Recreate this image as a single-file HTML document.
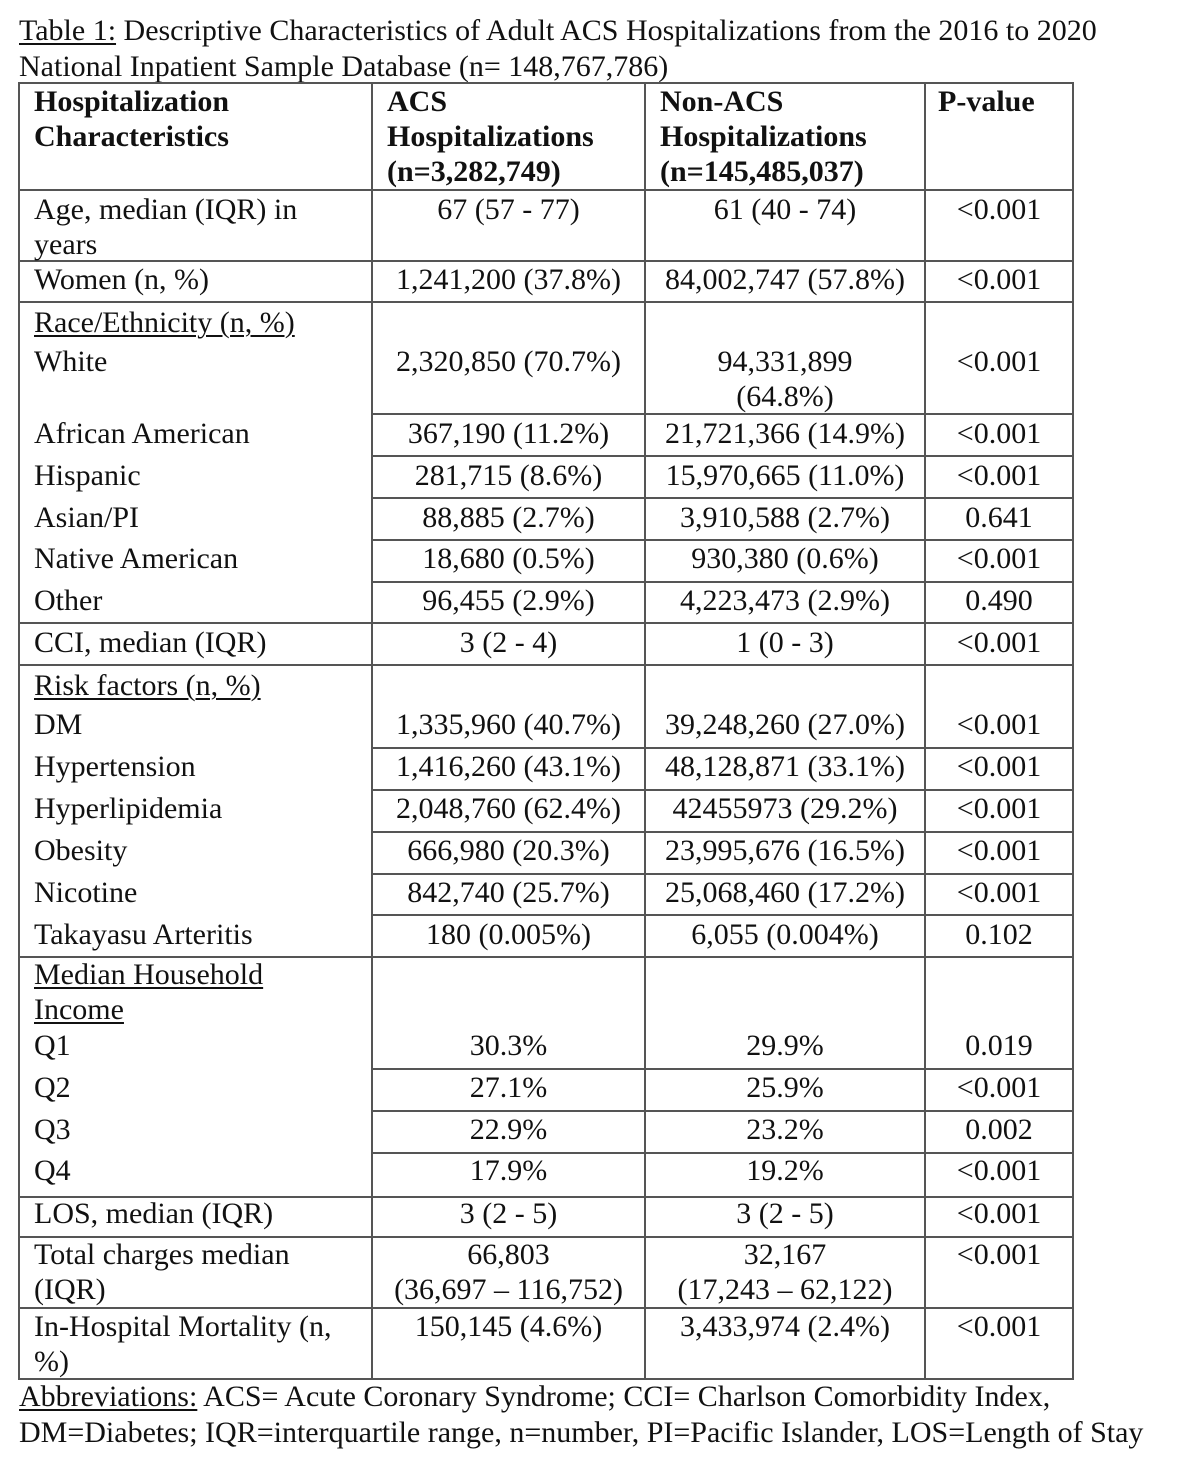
<!DOCTYPE html>
<html><head><meta charset="utf-8">
<style>
body{margin:0;background:#fff;}
#c{position:relative;width:1194px;height:1464px;overflow:hidden;font-family:"Liberation Serif","Times New Roman",serif;font-size:30px;color:#111;}
.t{position:absolute;line-height:34px;height:34px;white-space:nowrap;}
.l{left:34px;}
.c2{left:372px;width:273px;text-align:center;}
.c3{left:645px;width:280px;text-align:center;}
.c4{left:925px;width:148px;text-align:center;}
.b{font-weight:bold;}
.h{position:absolute;height:2px;background:#555;}
.v{position:absolute;width:2px;background:#555;top:83px;height:1297px;}
u{text-decoration:underline;text-underline-offset:3px;text-decoration-thickness:1.5px;}
</style></head><body><div id="c">
<div class="t" style="left:19px;top:14px"><u>Table 1:</u> Descriptive Characteristics of Adult ACS Hospitalizations from the 2016 to 2020</div>
<div class="t" style="left:19px;top:50px">National Inpatient Sample Database (n= 148,767,786)</div>

<div class="v" style="left:18px"></div><div class="v" style="left:371px"></div><div class="v" style="left:644px"></div><div class="v" style="left:924px"></div><div class="v" style="left:1072px"></div>

<div class="h" style="left:18px;width:1056px;top:82px"></div>
<div class="h" style="left:18px;width:1056px;top:189px"></div>
<div class="h" style="left:18px;width:1056px;top:260px"></div>
<div class="h" style="left:18px;width:1056px;top:301px"></div>
<div class="h" style="left:18px;width:1056px;top:622px"></div>
<div class="h" style="left:18px;width:1056px;top:664px"></div>
<div class="h" style="left:18px;width:1056px;top:956px"></div>
<div class="h" style="left:18px;width:1056px;top:1196px"></div>
<div class="h" style="left:18px;width:1056px;top:1236px"></div>
<div class="h" style="left:18px;width:1056px;top:1307px"></div>
<div class="h" style="left:18px;width:1056px;top:1378px"></div>
<div class="h" style="left:371px;width:703px;top:413px"></div>
<div class="h" style="left:371px;width:703px;top:455px"></div>
<div class="h" style="left:371px;width:703px;top:497px"></div>
<div class="h" style="left:371px;width:703px;top:539px"></div>
<div class="h" style="left:371px;width:703px;top:581px"></div>
<div class="h" style="left:371px;width:703px;top:747px"></div>
<div class="h" style="left:371px;width:703px;top:789px"></div>
<div class="h" style="left:371px;width:703px;top:831px"></div>
<div class="h" style="left:371px;width:703px;top:873px"></div>
<div class="h" style="left:371px;width:703px;top:914px"></div>
<div class="h" style="left:371px;width:703px;top:1068px"></div>
<div class="h" style="left:371px;width:703px;top:1110px"></div>
<div class="h" style="left:371px;width:703px;top:1152px"></div>

<div class="t l b" style="top:85px">Hospitalization</div>
<div class="t l b" style="top:120px">Characteristics</div>
<div class="t b" style="left:387px;top:85px">ACS</div>
<div class="t b" style="left:387px;top:120px">Hospitalizations</div>
<div class="t b" style="left:387px;top:155px">(n=3,282,749)</div>
<div class="t b" style="left:660px;top:85px">Non-ACS</div>
<div class="t b" style="left:660px;top:120px">Hospitalizations</div>
<div class="t b" style="left:660px;top:155px">(n=145,485,037)</div>
<div class="t b" style="left:938px;top:85px">P-value</div>

<div class="t l" style="top:193px">Age, median (IQR) in</div>
<div class="t l" style="top:228px">years</div>
<div class="t c2" style="top:193px">67 (57 - 77)</div>
<div class="t c3" style="top:193px">61 (40 - 74)</div>
<div class="t c4" style="top:193px">&lt;0.001</div>

<div class="t l" style="top:263px">Women (n, %)</div>
<div class="t c2" style="top:263px">1,241,200 (37.8%)</div>
<div class="t c3" style="top:263px">84,002,747 (57.8%)</div>
<div class="t c4" style="top:263px">&lt;0.001</div>

<div class="t l" style="top:306px"><u>Race/Ethnicity (n, %)</u></div>
<div class="t l" style="top:345px">White</div>
<div class="t c2" style="top:345px">2,320,850 (70.7%)</div>
<div class="t c3" style="top:345px">94,331,899</div>
<div class="t c3" style="top:380px">(64.8%)</div>
<div class="t c4" style="top:345px">&lt;0.001</div>

<div class="t l" style="top:417px">African American</div>
<div class="t c2" style="top:417px">367,190 (11.2%)</div>
<div class="t c3" style="top:417px">21,721,366 (14.9%)</div>
<div class="t c4" style="top:417px">&lt;0.001</div>
<div class="t l" style="top:459px">Hispanic</div>
<div class="t c2" style="top:459px">281,715 (8.6%)</div>
<div class="t c3" style="top:459px">15,970,665 (11.0%)</div>
<div class="t c4" style="top:459px">&lt;0.001</div>
<div class="t l" style="top:501px">Asian/PI</div>
<div class="t c2" style="top:501px">88,885 (2.7%)</div>
<div class="t c3" style="top:501px">3,910,588 (2.7%)</div>
<div class="t c4" style="top:501px">0.641</div>
<div class="t l" style="top:542px">Native American</div>
<div class="t c2" style="top:542px">18,680 (0.5%)</div>
<div class="t c3" style="top:542px">930,380 (0.6%)</div>
<div class="t c4" style="top:542px">&lt;0.001</div>
<div class="t l" style="top:584px">Other</div>
<div class="t c2" style="top:584px">96,455 (2.9%)</div>
<div class="t c3" style="top:584px">4,223,473 (2.9%)</div>
<div class="t c4" style="top:584px">0.490</div>

<div class="t l" style="top:626px">CCI, median (IQR)</div>
<div class="t c2" style="top:626px">3 (2 - 4)</div>
<div class="t c3" style="top:626px">1 (0 - 3)</div>
<div class="t c4" style="top:626px">&lt;0.001</div>

<div class="t l" style="top:669px"><u>Risk factors (n, %)</u></div>
<div class="t l" style="top:708px">DM</div>
<div class="t c2" style="top:708px">1,335,960 (40.7%)</div>
<div class="t c3" style="top:708px">39,248,260 (27.0%)</div>
<div class="t c4" style="top:708px">&lt;0.001</div>
<div class="t l" style="top:750px">Hypertension</div>
<div class="t c2" style="top:750px">1,416,260 (43.1%)</div>
<div class="t c3" style="top:750px">48,128,871 (33.1%)</div>
<div class="t c4" style="top:750px">&lt;0.001</div>
<div class="t l" style="top:792px">Hyperlipidemia</div>
<div class="t c2" style="top:792px">2,048,760 (62.4%)</div>
<div class="t c3" style="top:792px">42455973 (29.2%)</div>
<div class="t c4" style="top:792px">&lt;0.001</div>
<div class="t l" style="top:834px">Obesity</div>
<div class="t c2" style="top:834px">666,980 (20.3%)</div>
<div class="t c3" style="top:834px">23,995,676 (16.5%)</div>
<div class="t c4" style="top:834px">&lt;0.001</div>
<div class="t l" style="top:876px">Nicotine</div>
<div class="t c2" style="top:876px">842,740 (25.7%)</div>
<div class="t c3" style="top:876px">25,068,460 (17.2%)</div>
<div class="t c4" style="top:876px">&lt;0.001</div>
<div class="t l" style="top:918px">Takayasu Arteritis</div>
<div class="t c2" style="top:918px">180 (0.005%)</div>
<div class="t c3" style="top:918px">6,055 (0.004%)</div>
<div class="t c4" style="top:918px">0.102</div>

<div class="t l" style="top:958px"><u>Median Household</u></div>
<div class="t l" style="top:993px"><u>Income</u></div>
<div class="t l" style="top:1029px">Q1</div>
<div class="t c2" style="top:1029px">30.3%</div>
<div class="t c3" style="top:1029px">29.9%</div>
<div class="t c4" style="top:1029px">0.019</div>
<div class="t l" style="top:1071px">Q2</div>
<div class="t c2" style="top:1071px">27.1%</div>
<div class="t c3" style="top:1071px">25.9%</div>
<div class="t c4" style="top:1071px">&lt;0.001</div>
<div class="t l" style="top:1113px">Q3</div>
<div class="t c2" style="top:1113px">22.9%</div>
<div class="t c3" style="top:1113px">23.2%</div>
<div class="t c4" style="top:1113px">0.002</div>
<div class="t l" style="top:1154px">Q4</div>
<div class="t c2" style="top:1154px">17.9%</div>
<div class="t c3" style="top:1154px">19.2%</div>
<div class="t c4" style="top:1154px">&lt;0.001</div>

<div class="t l" style="top:1197px">LOS, median (IQR)</div>
<div class="t c2" style="top:1197px">3 (2 - 5)</div>
<div class="t c3" style="top:1197px">3 (2 - 5)</div>
<div class="t c4" style="top:1197px">&lt;0.001</div>

<div class="t l" style="top:1238px">Total charges median</div>
<div class="t l" style="top:1273px">(IQR)</div>
<div class="t c2" style="top:1238px">66,803</div>
<div class="t c2" style="top:1273px">(36,697 – 116,752)</div>
<div class="t c3" style="top:1238px">32,167</div>
<div class="t c3" style="top:1273px">(17,243 – 62,122)</div>
<div class="t c4" style="top:1238px">&lt;0.001</div>

<div class="t l" style="top:1310px">In-Hospital Mortality (n,</div>
<div class="t l" style="top:1345px">%)</div>
<div class="t c2" style="top:1310px">150,145 (4.6%)</div>
<div class="t c3" style="top:1310px">3,433,974 (2.4%)</div>
<div class="t c4" style="top:1310px">&lt;0.001</div>

<div class="t" style="left:19px;top:1380px"><u>Abbreviations:</u> ACS= Acute Coronary Syndrome; CCI= Charlson Comorbidity Index,</div>
<div class="t" style="left:19px;top:1416px">DM=Diabetes; IQR=interquartile range, n=number, PI=Pacific Islander, LOS=Length of Stay</div>
</div></body></html>
